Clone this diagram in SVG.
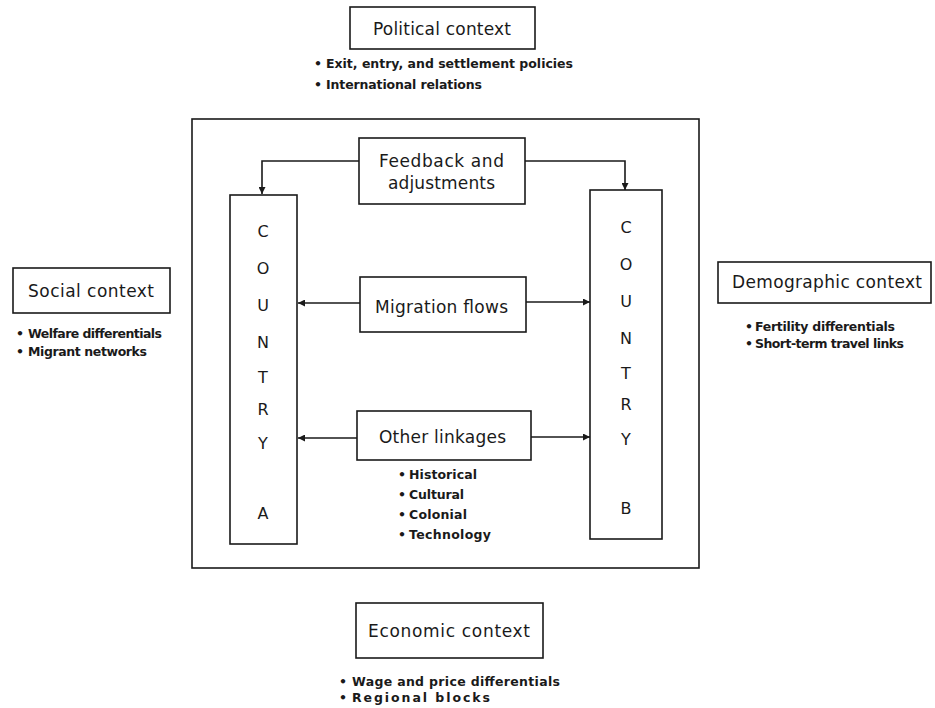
<svg xmlns="http://www.w3.org/2000/svg" width="935" height="708" viewBox="0 0 935 708">
<style>
.box{fill:#fff;stroke:#1a1a1a;stroke-width:1.6}
.ln{fill:none;stroke:#1a1a1a;stroke-width:1.6}
.h{font-family:"DejaVu Sans",sans-serif;font-size:17px;fill:#1a1a1a}
.b{font-family:"DejaVu Sans",sans-serif;font-size:12.5px;font-weight:bold;fill:#1a1a1a}
.l{font-family:"DejaVu Sans",sans-serif;font-size:16px;fill:#1a1a1a;text-anchor:middle}
</style>
<defs>
<marker id="arr" viewBox="0 0 10 10" refX="10" refY="5" markerWidth="7" markerHeight="7" markerUnits="userSpaceOnUse" orient="auto">
<path d="M0,0 L10,5 L0,10 z" fill="#1a1a1a"/>
</marker>
</defs>
<rect id="frame" class="box" x="192" y="119" width="507" height="449"/>
<g id="political">
<rect class="box" x="350" y="7" width="185" height="42"/>
<text class="h" x="373" y="35" textLength="138" lengthAdjust="spacing">Political context</text>
<text class="b" x="314" y="68">•</text><text class="b" x="326" y="68" textLength="247" lengthAdjust="spacing">Exit, entry, and settlement policies</text>
<text class="b" x="314" y="89">•</text><text class="b" x="326" y="89" textLength="156" lengthAdjust="spacing">International relations</text>
</g>
<g id="social">
<rect class="box" x="13" y="268" width="157" height="45"/>
<text class="h" x="28" y="297" textLength="126" lengthAdjust="spacing">Social context</text>
<text class="b" x="16" y="338">•</text><text class="b" x="28" y="338" textLength="134" lengthAdjust="spacing">Welfare differentials</text>
<text class="b" x="16" y="356">•</text><text class="b" x="28" y="356" textLength="119" lengthAdjust="spacing">Migrant networks</text>
</g>
<g id="demographic">
<rect class="box" x="718" y="262" width="213" height="41"/>
<text class="h" x="732" y="288" textLength="190" lengthAdjust="spacing">Demographic context</text>
<text class="b" x="745" y="331">•</text><text class="b" x="755" y="331" textLength="140" lengthAdjust="spacing">Fertility differentials</text>
<text class="b" x="745" y="348">•</text><text class="b" x="755" y="348" textLength="149" lengthAdjust="spacing">Short-term travel links</text>
</g>
<g id="economic">
<rect class="box" x="356" y="603" width="187" height="55"/>
<text class="h" x="368" y="637" textLength="162" lengthAdjust="spacing">Economic context</text>
<text class="b" x="339" y="686">•</text><text class="b" x="352" y="686" textLength="208" lengthAdjust="spacing">Wage and price differentials</text>
<text class="b" x="339" y="702">•</text><text class="b" x="352" y="702" textLength="138" lengthAdjust="spacing">Regional blocks</text>
</g>
<g id="connectors">
<path class="ln" d="M359,161 H262 V194" marker-end="url(#arr)"/>
<path class="ln" d="M525,161 H625 V190" marker-end="url(#arr)"/>
<path class="ln" d="M360,303 H298" marker-end="url(#arr)"/>
<path class="ln" d="M526,302 H590" marker-end="url(#arr)"/>
<path class="ln" d="M357,438 H298" marker-end="url(#arr)"/>
<path class="ln" d="M531,437 H590" marker-end="url(#arr)"/>
</g>
<g id="feedback">
<rect class="box" x="359" y="138" width="166" height="66"/>
<text class="h" x="379" y="167" textLength="125" lengthAdjust="spacing">Feedback and</text>
<text class="h" x="388" y="189" textLength="107" lengthAdjust="spacing">adjustments</text>
</g>
<g id="migration">
<rect class="box" x="360" y="277" width="166" height="55"/>
<text class="h" x="375" y="313" textLength="133" lengthAdjust="spacing">Migration flows</text>
</g>
<g id="other">
<rect class="box" x="357" y="411" width="174" height="49"/>
<text class="h" x="379" y="443" textLength="127" lengthAdjust="spacing">Other linkages</text>
<text class="b" x="398" y="479">•</text><text class="b" x="409" y="479" textLength="68" lengthAdjust="spacing">Historical</text>
<text class="b" x="398" y="499">•</text><text class="b" x="409" y="499" textLength="55" lengthAdjust="spacing">Cultural</text>
<text class="b" x="398" y="519">•</text><text class="b" x="409" y="519" textLength="58" lengthAdjust="spacing">Colonial</text>
<text class="b" x="398" y="539">•</text><text class="b" x="409" y="539" textLength="82" lengthAdjust="spacing">Technology</text>
</g>
<g id="countryA">
<rect class="box" x="230" y="195" width="67" height="349"/>
<text class="l" x="263" y="237">C</text>
<text class="l" x="263" y="274">O</text>
<text class="l" x="263" y="311">U</text>
<text class="l" x="263" y="348">N</text>
<text class="l" x="263" y="383">T</text>
<text class="l" x="263" y="415">R</text>
<text class="l" x="263" y="449">Y</text>
<text class="l" x="263" y="519">A</text>
</g>
<g id="countryB">
<rect class="box" x="590" y="190" width="72" height="349"/>
<text class="l" x="626" y="233">C</text>
<text class="l" x="626" y="270">O</text>
<text class="l" x="626" y="307">U</text>
<text class="l" x="626" y="344">N</text>
<text class="l" x="626" y="379">T</text>
<text class="l" x="626" y="410">R</text>
<text class="l" x="626" y="445">Y</text>
<text class="l" x="626" y="514">B</text>
</g>
</svg>
